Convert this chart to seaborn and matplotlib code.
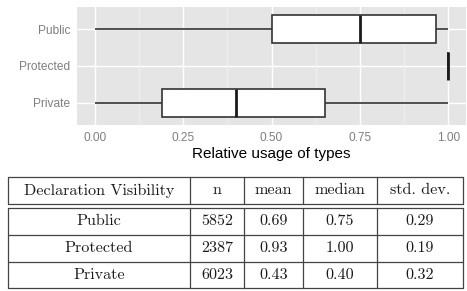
import numpy as np
import pandas as pd
import seaborn as sns
import matplotlib
matplotlib.use("Agg")
import matplotlib.pyplot as plt

# box summaries (min, q1, median, q3, max)
visibility = ["Public", "Protected", "Private"]
public_usage = [0.0, 0.50, 0.75, 0.965, 1.0]
protected_usage = [1.0, 1.0, 1.0, 1.0, 1.0]
private_usage = [0.0, 0.19, 0.40, 0.65, 1.0]

# summary table
col_labels = ["Declaration Visibility", "n", "mean", "median", "std. dev."]
n_vals = [5852, 2387, 6023]
mean_vals = [0.69, 0.93, 0.43]
median_vals = [0.75, 1.00, 0.40]
std_vals = [0.29, 0.19, 0.32]

df = pd.DataFrame({
    "visibility": np.repeat(visibility, 5),
    "usage": public_usage + protected_usage + private_usage,
})

sns.set_theme(style="darkgrid", rc={
    "axes.facecolor": "#E5E5E5",
    "grid.color": "white",
    "grid.linewidth": 1.0,
})
plt.rcParams["font.family"] = ["Liberation Sans", "DejaVu Sans"]

fig = plt.figure(figsize=(4.67, 2.91), dpi=100)
W, H = 467, 291
ax = fig.add_axes([77 / W, 1 - 125 / H, (466 - 77) / W, (125 - 7) / H])

sns.boxplot(data=df, x="usage", y="visibility", order=visibility, orient="h",
            color="white", linecolor="#333333", linewidth=1.2, width=0.75,
            whis=1.5, showfliers=False, showcaps=False,
            medianprops={"color": "#1a1a1a", "linewidth": 2.0}, ax=ax)

ax.set_xlim(-0.05, 1.05)
ax.set_ylim(2.6, -0.6)
ax.set_xticks([0, 0.25, 0.5, 0.75, 1.0])
ax.set_xticklabels(["0.00", "0.25", "0.50", "0.75", "1.00"])
ax.set_xticks([0.125, 0.375, 0.625, 0.875], minor=True)
ax.grid(True, which="major", color="white", linewidth=1.0)
ax.grid(True, which="minor", axis="x", color="#F2F2F2", linewidth=0.5)
ax.set_axisbelow(True)
ax.tick_params(axis="both", which="major", length=3, width=0.8, color="#7F7F7F",
               labelcolor="#7F7F7F", labelsize=8.6, pad=2)
ax.tick_params(axis="x", which="minor", length=0)
ax.set_ylabel("")
ax.set_xlabel("Relative usage of types", fontsize=11, color="black", labelpad=2)
for s in ax.spines.values():
    s.set_visible(False)

# table drawn in pixel coordinates
tab = fig.add_axes([0, 0, 1, 1])
tab.set_xlim(0, W)
tab.set_ylim(H, 0)
tab.axis("off")

col_edges = [8, 190, 244, 303, 377, 463]
head_top, head_bot = 177, 204
row_edges = [208, 235, 262, 288]
lc = "#444444"
lw = 0.9
tfont = dict(family="cmr10", fontsize=11.6, color="#1a1a1a", ha="center", va="center")

# header box
for y in (head_top, head_bot):
    tab.plot([col_edges[0], col_edges[-1]], [y, y], color=lc, lw=lw)
for x in col_edges:
    tab.plot([x, x], [head_top, head_bot], color=lc, lw=lw)
# body box
for y in row_edges:
    tab.plot([col_edges[0], col_edges[-1]], [y, y], color=lc, lw=lw)
for x in col_edges:
    tab.plot([x, x], [row_edges[0], row_edges[-1]], color=lc, lw=lw)

centers = [(col_edges[i] + col_edges[i + 1]) / 2 for i in range(len(col_edges) - 1)]
for cx, lab in zip(centers, col_labels):
    tab.text(cx, (head_top + head_bot) / 2, lab, **tfont)

for i, name in enumerate(visibility):
    cy = (row_edges[i] + row_edges[i + 1]) / 2
    cells = [name, str(n_vals[i]), f"{mean_vals[i]:.2f}", f"{median_vals[i]:.2f}", f"{std_vals[i]:.2f}"]
    for cx, c in zip(centers, cells):
        tab.text(cx, cy, c, **tfont)

fig.savefig("out.png", dpi=100)
